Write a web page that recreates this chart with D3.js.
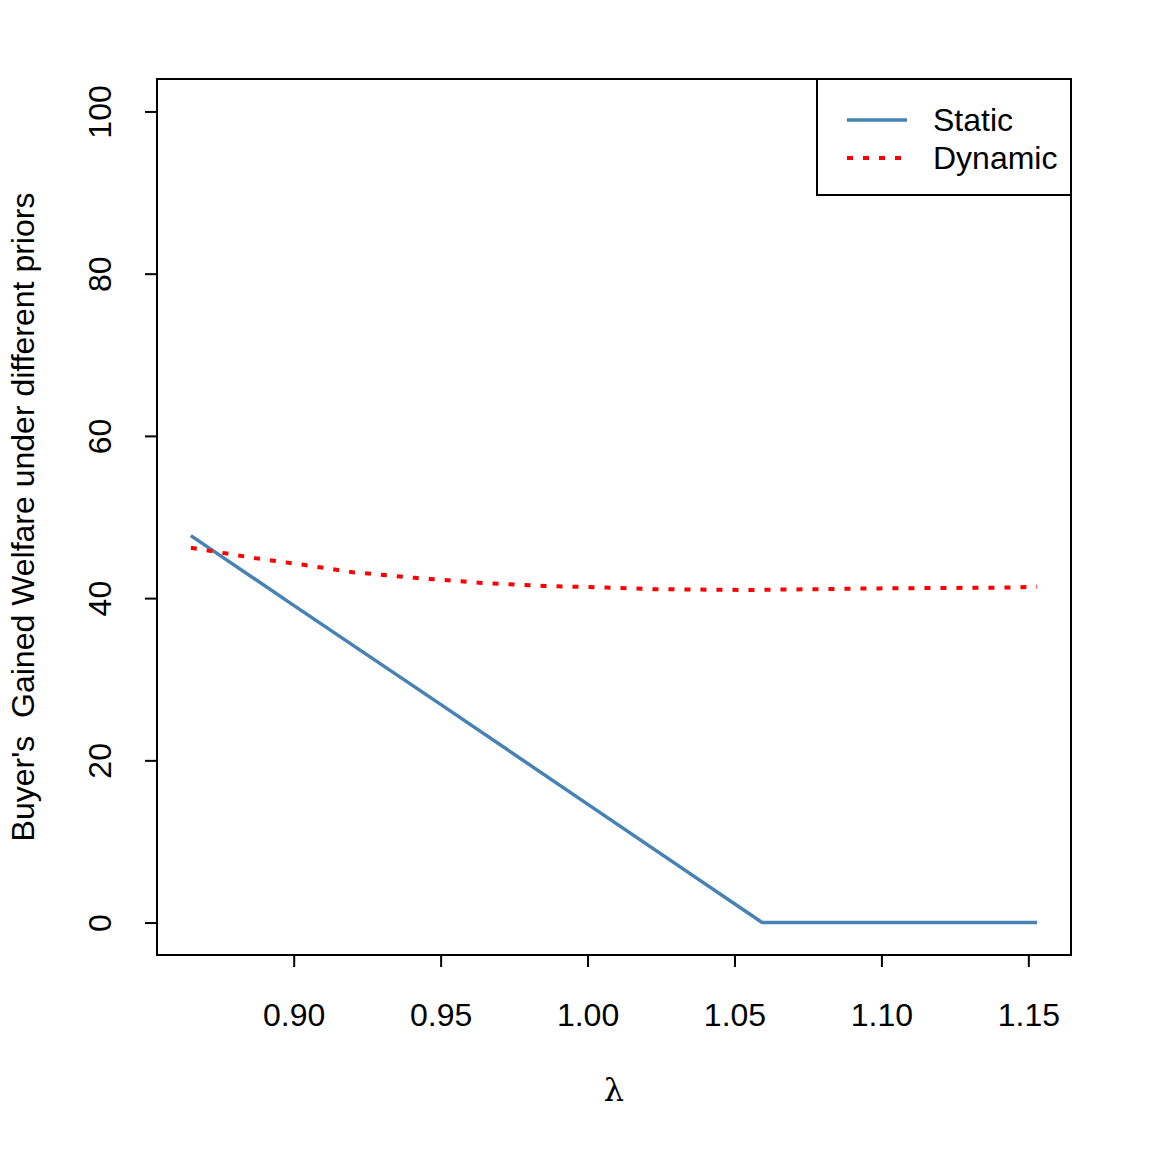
<!DOCTYPE html>
<html>
<head>
<meta charset="utf-8">
<script src="https://cdn.jsdelivr.net/npm/d3@7"></script>
<style>
  body { margin: 0; background: #fff; }
  text { font-family: "Liberation Sans", Arial, sans-serif; }
</style>
</head>
<body>
<svg id="chart" width="1152" height="1152"></svg>
<script>
// ---- data ----
const staticLambda = [0.865, 0.90, 0.95, 1.00, 1.0594, 1.10, 1.153];
const staticValues = [47.7, 39.1, 26.9, 14.6, 0, 0, 0];

const dynamicLambda = [0.865, 0.8874, 0.9034, 0.92, 0.9412, 0.963, 0.985, 1.0066, 1.0226, 1.055, 1.0996, 1.142, 1.153];
const dynamicValues = [46.2, 44.9, 44.1, 43.2, 42.5, 41.9, 41.5, 41.3, 41.1, 41.0, 41.2, 41.3, 41.4];

const xTicks = [0.90, 0.95, 1.00, 1.05, 1.10, 1.15];
const yTicks = [0, 20, 40, 60, 80, 100];
const seriesNames = ["Static", "Dynamic"];
const yLabel = "Buyer's  Gained Welfare under different priors";
const xLabel = "λ";

// ---- layout ----
const FS = 32;
const svg = d3.select("#chart");
const L = 157, R = 1071, T = 79, B = 955;
const xMin = 0.865, xMax = 1.153, xPad = (xMax - xMin) * 0.04;
const x = d3.scaleLinear().domain([xMin - xPad, xMax + xPad]).range([L, R]);
const y = d3.scaleLinear().domain([-4, 104]).range([B, T]);

// box
svg.append("rect").attr("x", L).attr("y", T).attr("width", R - L).attr("height", B - T)
  .attr("fill", "none").attr("stroke", "#000").attr("stroke-width", 2);

// x axis
const xa = svg.append("g").attr("transform", `translate(0,${B})`)
  .call(d3.axisBottom(x).tickValues(xTicks).tickFormat(d3.format(".2f")).tickSize(12).tickPadding(0));
xa.select(".domain").remove();
xa.selectAll(".tick line").attr("stroke", "#000").attr("stroke-width", 2);
xa.selectAll(".tick text").attr("font-size", FS).attr("fill", "#000")
  .attr("font-family", "Liberation Sans, Arial, sans-serif").attr("dy", null).attr("y", 71);
svg.append("line").attr("x1", x(xTicks[0])).attr("x2", x(xTicks[xTicks.length - 1]))
  .attr("y1", B).attr("y2", B).attr("stroke", "#000").attr("stroke-width", 2);

// y axis
const ya = svg.append("g").attr("transform", `translate(${L},0)`)
  .call(d3.axisLeft(y).tickValues(yTicks).tickSize(12).tickFormat(d3.format("d")));
ya.select(".domain").remove();
ya.selectAll(".tick line").attr("stroke", "#000").attr("stroke-width", 2);
ya.selectAll(".tick text").attr("font-size", FS).attr("fill", "#000")
  .attr("font-family", "Liberation Sans, Arial, sans-serif")
  .attr("x", null).attr("dy", null).attr("text-anchor", "middle")
  .attr("transform", "translate(-46,0) rotate(-90)");
svg.append("line").attr("y1", y(yTicks[0])).attr("y2", y(yTicks[yTicks.length - 1]))
  .attr("x1", L).attr("x2", L).attr("stroke", "#000").attr("stroke-width", 2);

// axis titles
svg.append("text").attr("transform", `translate(34,${(T + B) / 2}) rotate(-90)`)
  .attr("text-anchor", "middle").attr("font-size", FS).style("white-space", "pre")
  .text(yLabel);
svg.append("text").attr("x", (L + R) / 2).attr("y", 1101).attr("text-anchor", "middle")
  .attr("font-size", FS)
  .style("font-family", "'DejaVu Serif', 'Liberation Serif', serif")
  .text(xLabel);

// lines
const line = d3.line().x(d => x(d[0])).y(d => y(d[1]));
svg.append("path").datum(staticLambda.map((l, i) => [l, staticValues[i]]))
  .attr("d", line).attr("fill", "none").attr("stroke", "steelblue").attr("stroke-width", 3.5);
svg.append("path").datum(dynamicLambda.map((l, i) => [l, dynamicValues[i]]))
  .attr("d", line).attr("fill", "none").attr("stroke", "red").attr("stroke-width", 4)
  .attr("stroke-dasharray", "6,10");

// legend
const lg = svg.append("g");
lg.append("rect").attr("x", 817).attr("y", T).attr("width", R - 817).attr("height", 195 - T)
  .attr("fill", "#fff").attr("stroke", "#000").attr("stroke-width", 2);
const styles = [{ c: "steelblue", d: null, w: 3.5 }, { c: "red", d: "6,10", w: 4 }];
seriesNames.forEach((n, i) => {
  const yy = 120 + i * 38;
  lg.append("line").attr("x1", 847).attr("x2", 907).attr("y1", yy).attr("y2", yy)
    .attr("stroke", styles[i].c).attr("stroke-width", styles[i].w).attr("stroke-dasharray", styles[i].d);
  lg.append("text").attr("x", 933).attr("y", yy + 11).attr("font-size", FS).text(n);
});
</script>
</body>
</html>
